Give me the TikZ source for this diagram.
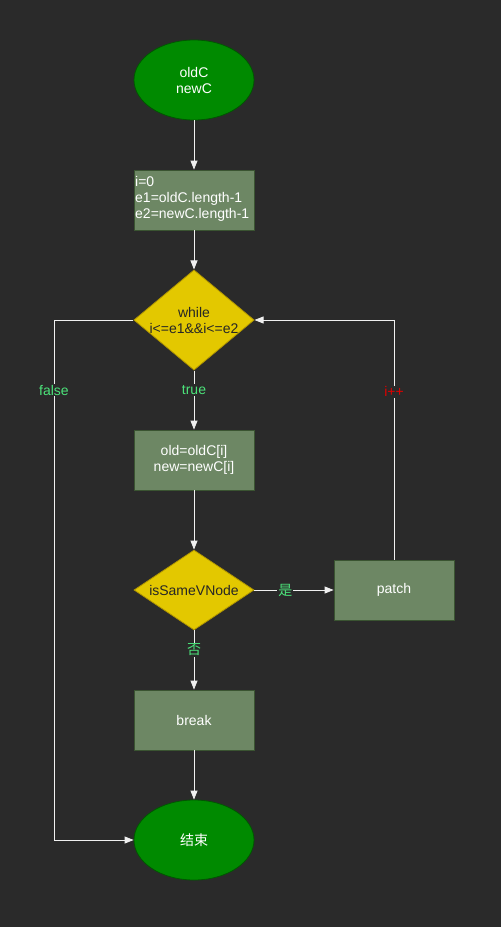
\documentclass[tikz,border=0pt]{standalone}
\usepackage{fontspec}
\setmainfont{Liberation Sans}
\newfontfamily\cjk{Noto Sans CJK SC}
\usetikzlibrary{shapes.geometric,arrows.meta}
\definecolor{bg}{HTML}{2A2A2A}
\definecolor{startfill}{HTML}{008A00}
\definecolor{startline}{HTML}{005700}
\definecolor{boxfill}{HTML}{6D8764}
\definecolor{boxline}{HTML}{3A5431}
\definecolor{decfill}{HTML}{E3C800}
\definecolor{decline}{HTML}{B09500}
\definecolor{lblgreen}{HTML}{4CE37A}
\definecolor{lblred}{HTML}{E00000}
\definecolor{wire}{HTML}{F0F0F0}
\tikzset{
  txt/.style={font=\fontsize{14}{16}\selectfont},
  term/.style={ellipse, draw=startline, fill=startfill, line width=0.8pt, minimum width=120pt, minimum height=80pt, inner sep=0pt, text=white, align=center, txt},
  procbox/.style={rectangle, draw=boxline, fill=boxfill, line width=0.8pt, minimum width=120pt, minimum height=60pt, inner sep=0pt, text=white, align=center, txt},
  decision/.style={diamond, draw=decline, fill=decfill, line width=0.8pt, inner sep=0pt, text=black!85, align=center, txt},
  conn/.style={draw=wire, line width=0.8pt, -{Triangle[length=9pt,width=7pt,fill=wire]}},
  lbl/.style={fill=bg, inner sep=1pt, font=\fontsize{14}{16}\selectfont}
}
\begin{document}
\begin{tikzpicture}[x=1pt,y=-1pt]
\fill[bg] (0,0) rectangle (501,927);
\useasboundingbox (0,0) rectangle (501,927);
\node[term] (start) at (194,80) {oldC\\newC};
\node[procbox] (init) at (194,200) {};
\node[anchor=west, text=white, align=left, txt, inner sep=0pt] (inittext) at (135,199) {i=0\\e1=oldC.length-1\\e2=newC.length-1};
\node[decision, minimum width=120pt, minimum height=100pt, shape aspect=1.2] (loop) at (194,320) {while\\i<=e1\&\&i<=e2};
\node[procbox] (assign) at (194,460) {old=oldC[i]\\new=newC[i]};
\node[decision, minimum width=120pt, minimum height=80pt, shape aspect=1.5] (same) at (194,590) {isSameVNode};
\node[procbox] (patch) at (394,590) {patch};
\node[procbox] (brk) at (194,720) {break};
\node[term] (stop) at (194,840) {\cjk 结束};
\coordinate (lc) at (54,320);
\coordinate (lb) at (54,840);
\coordinate (rc) at (394,320);
\draw[conn] (start) -- (init);
\draw[conn] (init) -- (loop);
\draw[conn] (loop.south) -- node[lbl, text=lblgreen, pos=0.33] {true} (assign.north);
\draw[conn] (loop.west) -- (lc) -- node[lbl, text=lblgreen, pos=0.135] {false} (lb) -- (stop.west);
\draw[conn] (assign) -- (same);
\draw[conn] (same.east) -- node[lbl, text=lblgreen, pos=0.39] {\cjk 是} (patch.west);
\draw[conn] (same.south) -- node[lbl, text=lblgreen, pos=0.33] {\cjk 否} (brk.north);
\draw[conn] (brk) -- (stop);
\draw[conn] (patch.north) -- node[lbl, text=lblred, pos=0.7] {i++} (rc) -- (loop.east);
\end{tikzpicture}
\end{document}
